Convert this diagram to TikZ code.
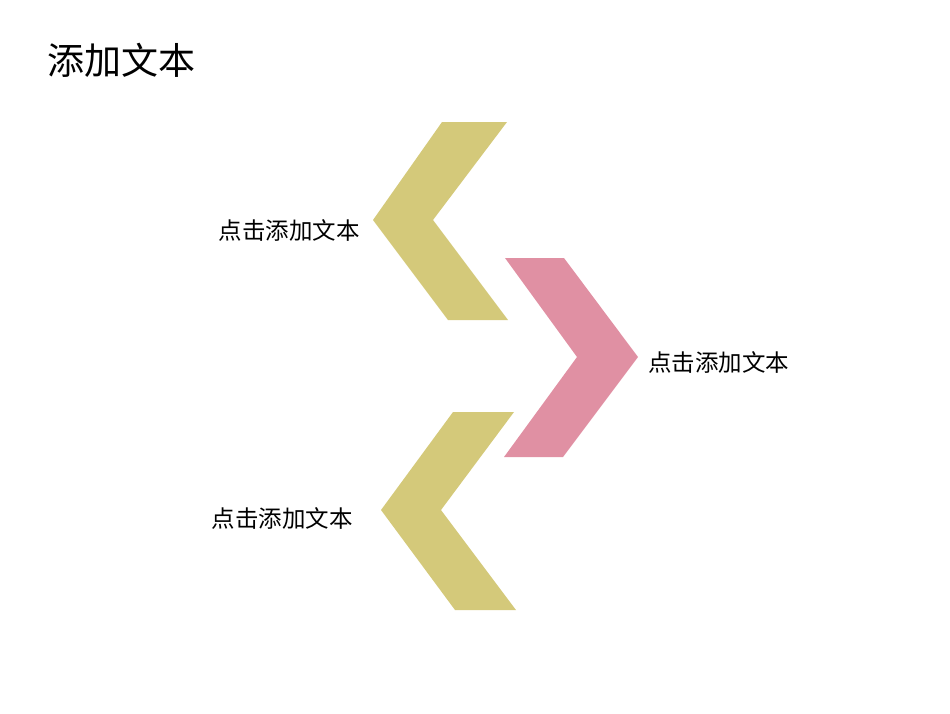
\documentclass[tikz,border=0pt]{standalone}
\usepackage{fontspec}
\setmainfont{Noto Sans CJK SC}
\usepackage{tikz}
\usetikzlibrary{positioning}
\definecolor{chevgold}{RGB}{212,201,122}
\definecolor{chevpink}{RGB}{224,144,163}
\tikzset{
  chev/.style={draw=none},
  lbl/.style={inner sep=0pt,font=\fontsize{23.5}{28}\selectfont},
  heading/.style={inner sep=0pt,font=\fontsize{37}{44}\selectfont}
}

\begin{document}
\begin{tikzpicture}[x=1pt,y=-1pt]
\useasboundingbox (0,0) rectangle (950,713);

%title
\node[heading,anchor=west] (title) at (47,60){添加文本};

%the three chevrons
\fill[chev,chevgold] (442,122)--(507,122)--(433,220)--(508,320)--(448,320)--(373,220)--cycle; %top
\fill[chev,chevpink] (505,258)--(564,258)--(638,357)--(563,457)--(504,457)--(577,357)--cycle; %middle
\fill[chev,chevgold] (453,412)--(514,412)--(441,510)--(516,610)--(455,610)--(381,510)--cycle; %bottom

%labels
\node[lbl,anchor=east] (txta) at (360,230){点击添加文本};
\node[lbl,anchor=west] (txtb) at (648,362){点击添加文本};
\node[lbl,anchor=east] (txtc) at (353,518){点击添加文本};
\end{tikzpicture}
\end{document}
